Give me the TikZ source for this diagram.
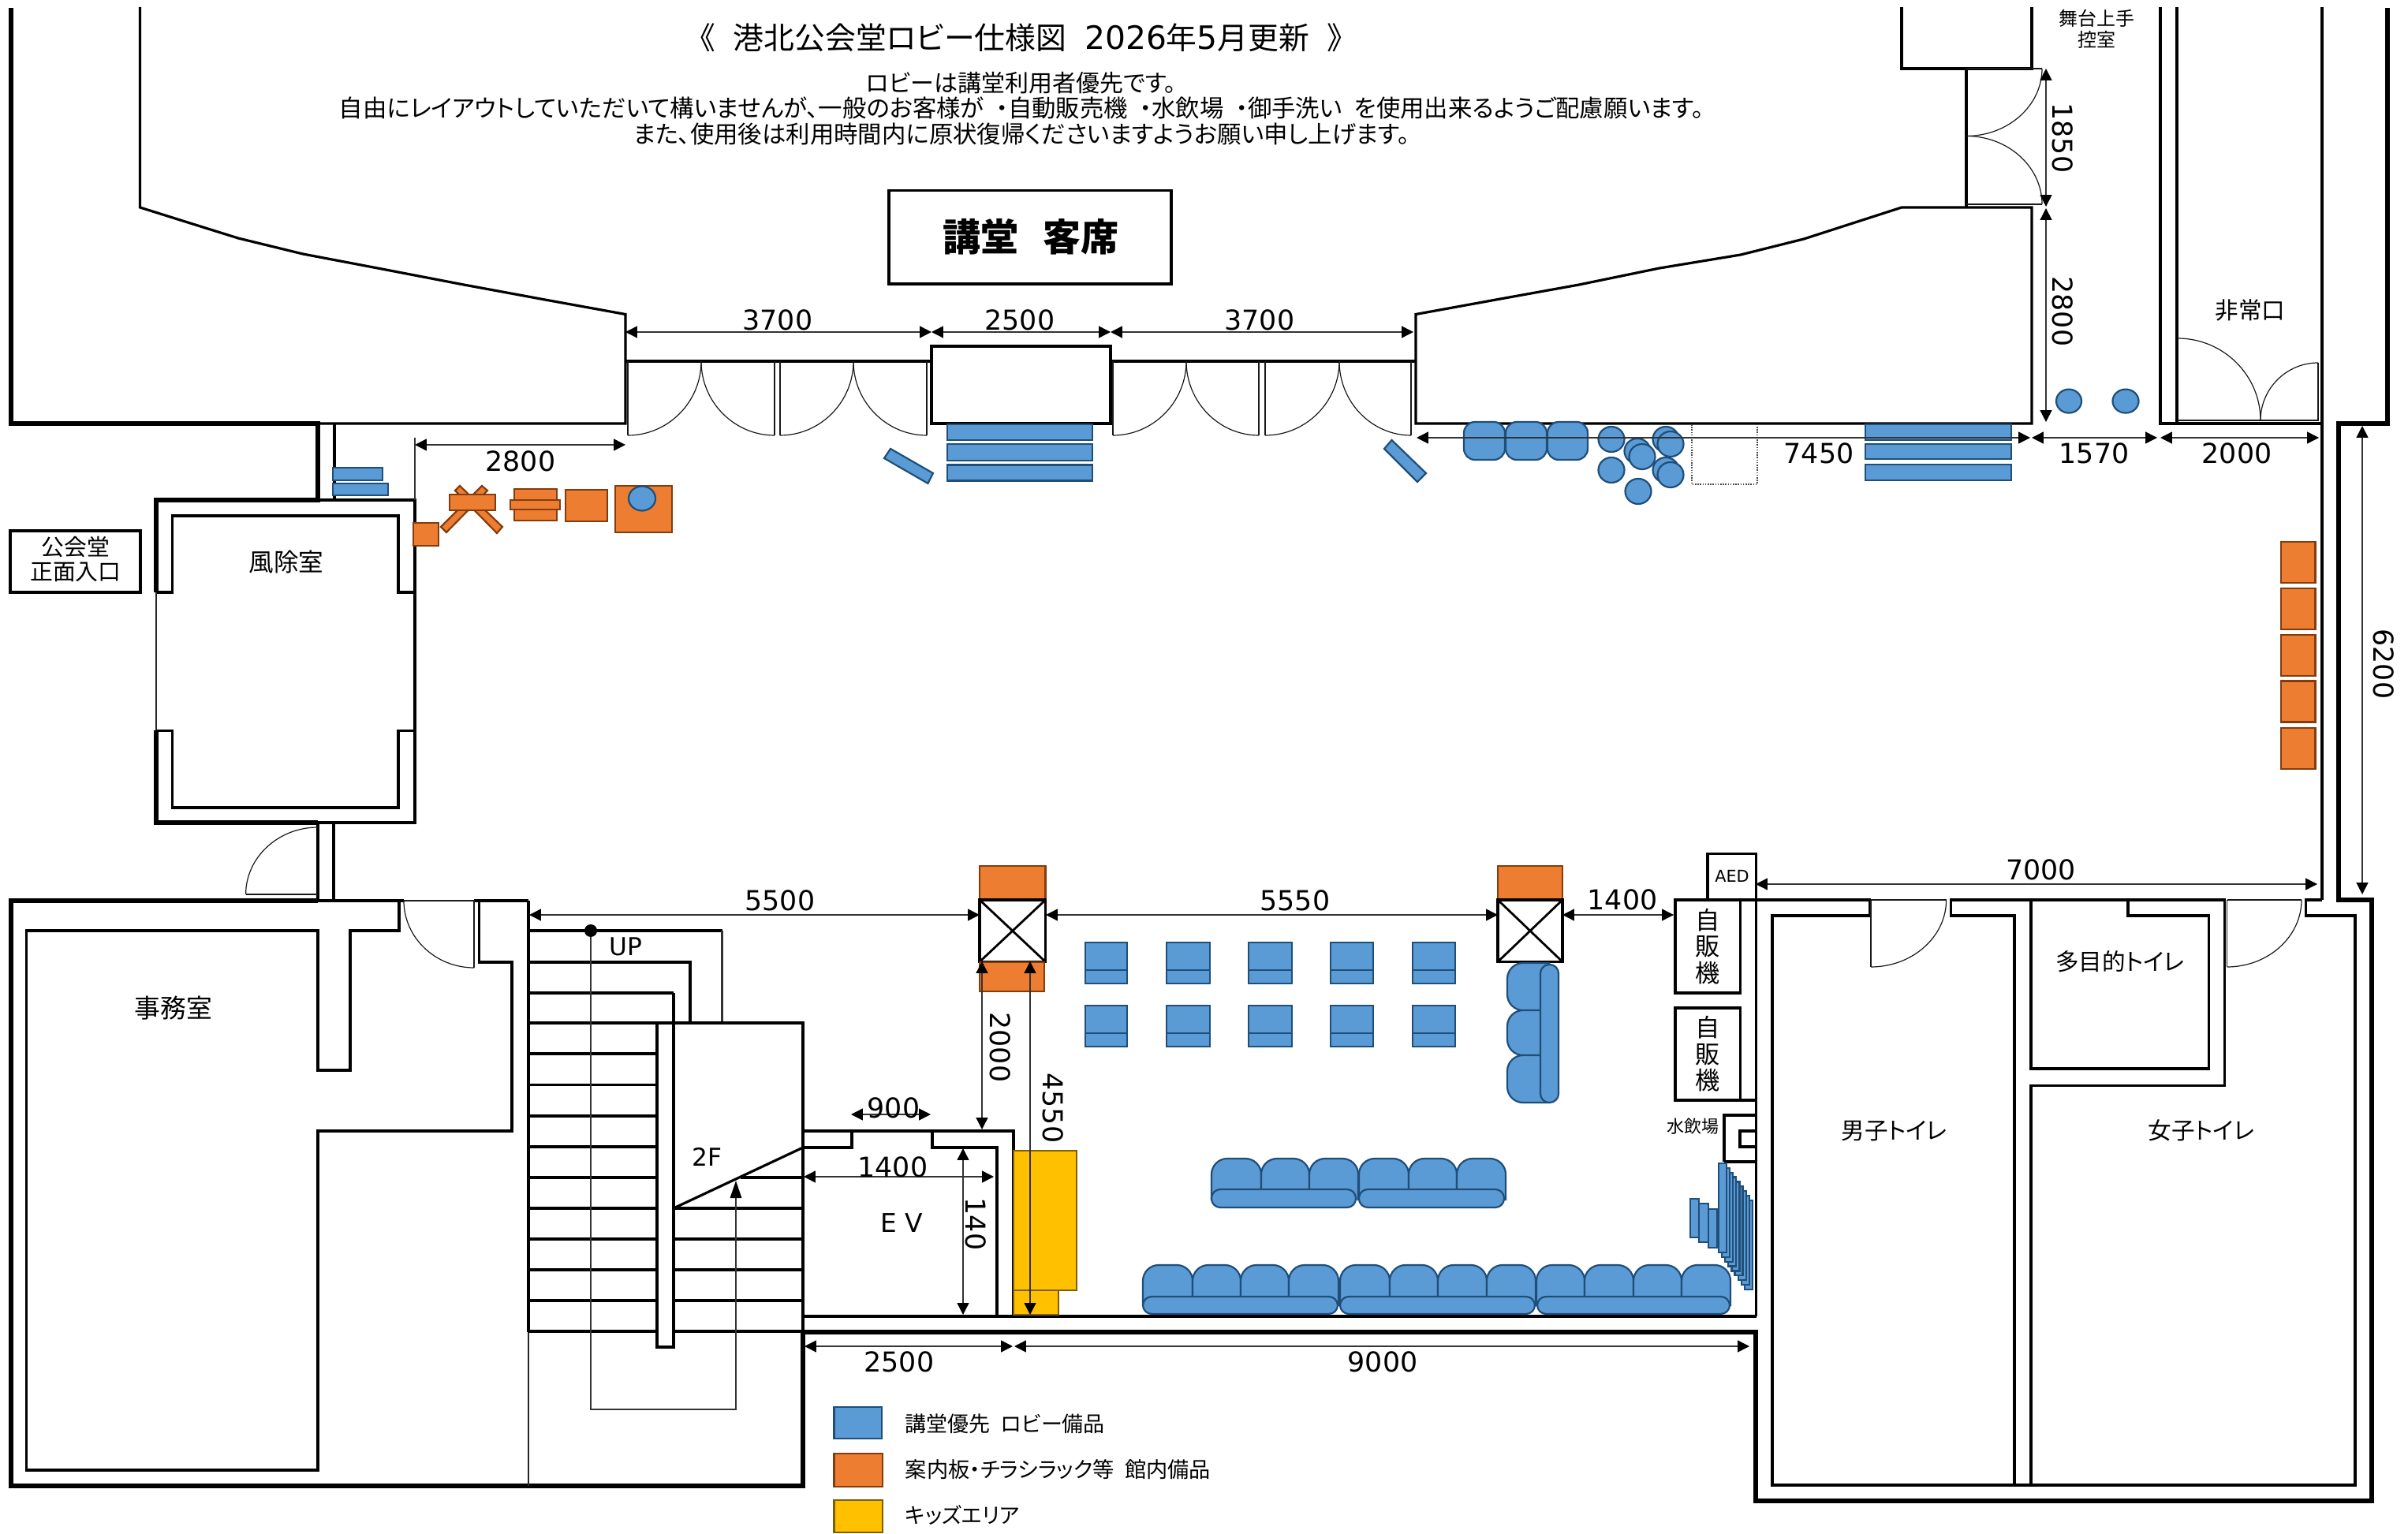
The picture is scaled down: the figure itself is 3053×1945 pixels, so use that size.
\documentclass[tikz,border=0pt]{standalone}
\usepackage{fontspec}
\setmainfont{Noto Sans CJK JP}[RawFeature=+palt]
\newfontfamily\digitfont{DejaVu Sans}
\usetikzlibrary{arrows.meta}
\definecolor{bluef}{HTML}{5B9BD5}
\definecolor{blued}{HTML}{1F4E79}
\definecolor{orf}{HTML}{ED7D31}
\definecolor{ord}{HTML}{843C0C}
\definecolor{yelf}{HTML}{FFC000}
\definecolor{yeld}{HTML}{7F6000}
\newcommand\fz[1]{\fontsize{#1}{#1}\selectfont}
\newcommand\hvarc[4]{\draw[doorline] (#1,#2) .. controls ({#1+0.55*(#3-#1)},#2) and (#3,{#4-0.55*(#4-#2)}) .. (#3,#4);}
\newcommand\vharc[4]{\draw[doorline] (#1,#2) .. controls (#1,{#2+0.55*(#4-#2)}) and ({#3-0.55*(#3-#1)},#4) .. (#3,#4);}
\tikzset{
 heavy/.style={line width=1.5pt,line cap=butt,line join=miter},
 wall/.style={line width=0.8pt,line join=miter},
 doorline/.style={line width=0.3pt,black!90},
 hair/.style={line width=0.35pt,black!80},
 dimline/.style={line width=0.35pt,black!80,>={Triangle[length=3.7pt,width=3.7pt,color=black]},<->},
 bluebox/.style={draw=blued,fill=bluef,line width=0.55pt},
 orbox/.style={draw=ord,fill=orf,line width=0.55pt},
 yelbox/.style={draw=yeld,fill=yelf,line width=0.55pt},
 num/.style={font=\digitfont\fz{8.7},inner sep=0pt},
 lab/.style={font=\fz{7.4},inner sep=0pt,align=center},
}
\begin{document}
\begin{tikzpicture}[x=0.25pt,y=-0.25pt]
\useasboundingbox (0,0) rectangle (3053,1945);
\fill[white] (0,0) rectangle (3053,1945);
% ---------- heavy walls
\draw[heavy] (14,10)--(14,537)--(403,537)--(403,634)--(198,634)--(198,751);
\draw[heavy] (198,926)--(198,1043)--(403,1043);
\draw[heavy] (403,1142)--(14,1142)--(14,1884)--(1018,1884)--(1018,1689)--(2226,1689)--(2226,1903)--(3007,1903)--(3007,1141)--(2965,1141)--(2965,537)--(3027,537)--(3027,10);
% ---------- auditorium outline
\draw[wall] (403,537)--(793,537)--(793,398.5)--(691,380)--(588,361)--(484,341)--(384,322)--(302,302)--(238,282)--(177.5,263)--(177.5,9);
\draw[wall] (793,458)--(1181,458);
\draw[wall] (1408,458)--(1795,458);
\draw[wall] (1181,439) rectangle (1408,537);
\draw[wall] (1795,458)--(1795,398.5)--(1900,379.4)--(2002,361)--(2104,340)--(2207,323)--(2287,303)--(2411,263)--(2576,263)--(2576,537)--(1795,537)--cycle;
\draw[wall] (2411,9)--(2411,87)--(2576,87)--(2576,9);
\draw[wall] (2493,87)--(2493,263);
\draw[wall] (2739,9)--(2739,537)--(2944,537);
\draw[wall] (2760,9)--(2760,537);
\draw[wall] (2944,9)--(2944,1141);
% ---------- wind room
\draw[wall] (403,634)--(526,634)--(526,1043)--(403,1043);
\draw[wall] (424,537)--(424,634);
\draw[wall] (198,751)--(218.7,751)--(218.7,654)--(505,654)--(505,751)--(526,751);
\draw[wall] (198,926.5)--(218.7,926.5)--(218.7,1024)--(505,1024)--(505,926.5)--(526,926.5);
\draw[line width=0.6pt,black!85] (198,751)--(198,926);
\draw[wall] (13,673) rectangle (178,751);
\draw[wall] (403,1043)--(403,1142);
\draw[wall] (423,1043)--(423,1142);
% ---------- office
\draw[wall] (403,1142)--(670,1142);
\draw[wall] (506,1142)--(506,1180)--(444,1180)--(444,1357)--(403,1357)--(403,1180)--(33.7,1180)--(33.7,1864)--(403,1864)--(403,1434)--(649,1434)--(649,1220)--(607.5,1220)--(607.5,1142);
\draw[wall] (670,1142)--(670,1689);
\draw[line width=0.55pt,black!85] (670,1689)--(670,1884);
% ---------- stairs
\draw[wall] (670,1220)--(875,1220)--(875,1297);
\draw[wall] (670,1259)--(854,1259);
\draw[wall] (670,1180)--(915.5,1180);
\draw[line width=0.55pt,black!80] (915.5,1180)--(915.5,1297);
\draw[wall] (670,1297)--(1018,1297)--(1018,1689);
\foreach \yy in {1336,1375.5,1415,1454,1493,1532,1571,1610,1649,1688}{\draw[wall] (670,\yy)--(833,\yy);}
\foreach \yy in {1532,1571,1610,1649,1688}{\draw[wall] (854,\yy)--(1018,\yy);}
\draw[wall] (938.6,1493)--(1018,1493);
\draw[wall] (854,1532)--(1018,1455);
\draw[wall] (833,1297)--(833,1708)--(854,1708)--(854,1259);
\draw[hair,line width=0.5pt,-{Triangle[length=5.5pt,width=3.6pt,color=black]}] (749,1180)--(749,1787)--(933,1787)--(933,1497);
\fill (749,1180) circle (8);
% ---------- EV and floor
\draw[wall] (1018,1455)--(1080,1455)--(1080,1434);
\draw[wall] (1018,1434)--(1285,1434)--(1285,1669);
\draw[wall] (1182,1434)--(1182,1455)--(1264,1455)--(1264,1669);
\draw[wall] (1018,1669)--(2226.5,1669);
% ---------- right side block
\draw[wall] (2226.5,1141)--(2226.5,1669);
\draw[wall] (2165,1141)--(2165,1082.5)--(2226.5,1082.5)--(2226.5,1141);
\draw[wall] (2124,1141) rectangle (2206.6,1259);
\draw[wall] (2124,1278)--(2206.6,1278)--(2206.6,1395)--(2124,1395)--cycle;
\draw[wall] (2124,1395)--(2226.5,1395);
\draw[wall] (2206.6,1141)--(2226.5,1141);
\draw[wall] (2186,1473)--(2186,1414)--(2226.5,1414);
\draw[wall] (2186,1473)--(2226.5,1473);
\draw[wall] (2226.5,1434)--(2206,1434)--(2206,1454)--(2226.5,1454);
% ---------- toilets
\draw[wall] (2226.5,1141)--(2370.6,1141)--(2370.6,1161)--(2247,1161)--(2247,1883)--(2986,1883)--(2986,1161)--(2923.5,1161)--(2923.5,1141)--(2944,1141);
\draw[wall] (2554,1883)--(2554,1161)--(2473.5,1161)--(2473.5,1141)--(2820.6,1141)--(2820.6,1376.5)--(2575,1376.5)--(2575,1883);
\draw[wall] (2575,1141)--(2575,1355)--(2800.7,1355)--(2800.7,1161)--(2698,1161)--(2698,1141);
% ---------- doors
\foreach \a/\b/\c in {796/889/982,989/1082/1175,1411/1504/1596,1604/1698/1789}{
 \draw[doorline] (\a,458)--(\a,552);
 \draw[doorline] (\c,458)--(\c,552);
 \hvarc{\a}{552}{\b}{458}
 \vharc{\b}{458}{\c}{552}
}
\draw[doorline] (2589,87)--(2493,87);
\draw[doorline] (2589,259)--(2493,259);
\vharc{2589}{87}{2493}{172.5}
\hvarc{2493}{172.5}{2589}{259}
\hvarc{2761}{429}{2866}{533}
\vharc{2866}{533}{2939}{460}
\draw[doorline] (2939,460)--(2939,533)--(2761,533);
\draw[doorline] (403,1134)--(311.6,1134);
\vharc{311.6}{1134}{403}{1049}
\draw[fill=white,draw=none] (512,1139) rectangle (601,1145);
\draw[doorline] (512,1142)--(601,1142)--(601,1227);
\vharc{512}{1142}{601}{1227}
\draw[fill=white,draw=none] (2372,1139) rectangle (2467.6,1143);
\draw[fill=white,draw=none] (2823.5,1139) rectangle (2918,1143);
\draw[doorline] (2372,1141)--(2467.6,1141);
\draw[doorline] (2372,1141)--(2372,1226);
\hvarc{2372}{1226}{2467.6}{1141}
\draw[doorline] (2823.5,1141)--(2918,1141);
\draw[doorline] (2823.5,1141)--(2823.5,1226);
\hvarc{2823.5}{1226}{2918}{1141}
% ---------- pillars
\foreach \xa/\xb in {1242/1325.5,1899/1981}{
 \draw[orbox] (\xa,1098) rectangle (\xb,1140);
 \draw[line width=0.85pt,fill=white] (\xa,1141) rectangle (\xb,1219.5);
 \draw[line width=0.7pt] (\xa,1141)--(\xb,1219.5) (\xa,1219.5)--(\xb,1141);
}
\draw[orbox] (1242,1220) rectangle (1324,1257);
% ---------- yellow
\draw[yelbox] (1285,1459) rectangle (1365,1636);
\draw[yelbox] (1285,1636) rectangle (1342,1667);
% ---------- blue benches
\foreach \ya/\yb in {538/558,563/584,589.5/609.6}{\draw[bluebox] (1201,\ya) rectangle (1385,\yb);}
\foreach \ya/\yb in {538/558,563/582,589/609}{\draw[bluebox] (2365,\ya) rectangle (2550,\yb);}
\draw[bluebox] (422,593) rectangle (485,609);
\draw[bluebox] (422,613) rectangle (492,628);
\draw[bluebox] (1129,569)--(1183,600)--(1176.5,613)--(1121,581)--cycle;
\draw[bluebox] (1764.5,558)--(1808,600)--(1797,611)--(1755,569)--cycle;
% cushions
\foreach \xa/\xb in {1856/1908,1909/1961,1962/2013}{\draw[bluebox,rounded corners=3.5pt] (\xa,535) rectangle (\xb,583);}
\foreach \cx/\cy in {2043/557,2043/596,2076/572,2082/579,2112/557,2118/563,2112/596,2118/602,2077/623}{\draw[bluebox] (\cx,\cy) ellipse [x radius=16.5,y radius=16];}
\draw[bluebox] (2623,508.6) ellipse [x radius=16,y radius=15];
\draw[bluebox] (2695,508.6) ellipse [x radius=16.5,y radius=15];
\draw[line width=0.6pt,dash pattern=on 0.4pt off 0.4pt,black!70] (2145,538)--(2145,614)--(2228,614)--(2228,538);
% orange lobby items
\draw[orbox] (524,663) rectangle (556,692);
\draw[orbox] (559,668)--(566,675)--(618,622)--(611,616)--cycle;
\draw[orbox] (577,622)--(583,616)--(637,668)--(630,676)--cycle;
\draw[orbox] (570,627) rectangle (628,647);
\draw[orbox] (652,620) rectangle (706,660);
\draw[orbox] (647,634) rectangle (710,646);
\draw[orbox] (717,621) rectangle (770,661);
\draw[orbox] (780,616) rectangle (852,675);
\draw[bluebox] (814,632) ellipse [x radius=17,y radius=15.5];
\foreach \ya/\yb in {687/739,746/798,805/857,863.6/915.5,923/975}{\draw[orbox] (2892,\ya) rectangle (2935.5,\yb);}
% chairs
\foreach \xa/\xb in {1376/1429,1479/1534,1583/1638,1687/1741,1790.6/1845}{
 \draw[bluebox] (\xa,1195) rectangle (\xb,1247);
 \draw[blued,line width=0.55pt] (\xa,1230)--(\xb,1230);
 \draw[bluebox] (\xa,1275) rectangle (\xb,1327);
 \draw[blued,line width=0.55pt] (\xa,1310)--(\xb,1310);
}
% sofas: middle row
\foreach \xa/\xb in {1536/1599,1599/1660,1660/1722,1723/1786,1786/1847,1847/1909}{
 \draw[bluebox,rounded corners=5pt] (\xa,1522)--(\xa,1469)--(\xb,1469)--(\xb,1522);
 \fill[bluef] (\xa+2,1490) rectangle (\xb-2,1522);
 \draw[blued,line width=0.55pt] (\xa,1490)--(\xa,1522) (\xb,1490)--(\xb,1522);
}
\draw[bluebox,rounded corners=2.8pt] (1536,1508) rectangle (1719,1531);
\draw[bluebox,rounded corners=2.8pt] (1723,1508) rectangle (1907,1531);
% sofas: bottom row
\foreach \xa/\xb in {1449/1512,1512/1573,1573/1634,1634/1697,1699/1762,1762/1823,1823/1885,1885/1947,1948/2009,2009/2071,2071/2132,2132/2194}{
 \draw[bluebox,rounded corners=5pt] (\xa,1656)--(\xa,1604)--(\xb,1604)--(\xb,1656);
 \fill[bluef] (\xa+2,1625) rectangle (\xb-2,1656);
 \draw[blued,line width=0.55pt] (\xa,1625)--(\xa,1656) (\xb,1625)--(\xb,1656);
}
\draw[bluebox,rounded corners=2.8pt] (1449,1644) rectangle (1696,1666);
\draw[bluebox,rounded corners=2.8pt] (1699,1644) rectangle (1946,1666);
\draw[bluebox,rounded corners=2.8pt] (1949,1644) rectangle (2193,1666);
% sofa: vertical
\foreach \ya/\yb in {1221/1281,1281/1338,1338/1398}{
 \draw[bluebox,rounded corners=5pt] (1965,\ya)--(1911,\ya)--(1911,\yb)--(1965,\yb);
}
\draw[bluebox,rounded corners=2.8pt] (1953,1223) rectangle (1976,1398);
% stacked chairs by the wall
\foreach \i in {8,7,...,0}{\draw[bluebox] ({2179+4.1*\i},{1475+5.85*\i}) rectangle ({2189+4.1*\i},{1588+5.85*\i});}
\draw[bluebox] (2143,1520) rectangle (2154,1569);
\draw[bluebox] (2154,1526) rectangle (2166,1575);
\draw[bluebox] (2166,1533) rectangle (2177,1582);
% ---------- dimensions
\draw[dimline] (793,421)--(1181,421);
\draw[dimline] (1181,421)--(1408,421);
\draw[dimline] (1408,421)--(1792,421);
\draw[dimline] (526,564)--(793,564);
\draw[hair] (526,555)--(526,634);
\draw[dimline] (1796,555)--(2574,555);
\draw[dimline] (2576,555)--(2735,555);
\draw[dimline] (2739,555)--(2940,555);
\draw[dimline] (2594,87)--(2594,262);
\draw[dimline] (2594,264)--(2594,535);
\draw[dimline] (2995,540)--(2995,1134);
\draw[dimline] (671,1160)--(1242,1160);
\draw[dimline] (1326,1160)--(1899,1160);
\draw[dimline] (1981,1160)--(2122,1160);
\draw[dimline] (2226,1121)--(2938,1121);
\draw[dimline] (1245,1219)--(1245,1432);
\draw[dimline] (1306,1219)--(1306,1667);
\draw[dimline] (1079,1413)--(1180,1413);
\draw[dimline] (1019,1492)--(1260,1492);
\draw[dimline] (1221,1456)--(1221,1667);
\draw[dimline] (1020,1707)--(1284,1707);
\draw[dimline] (1286,1707)--(2218,1707);
\node[num] (d1) at (986,406) {3700};
\node[num] (d2) at (1293,406) {2500};
\node[num] (d3) at (1597,406) {3700};
\node[num] (d4) at (660,585) {2800};
\node[num] (d5) at (2306,575) {7450};
\node[num] (d6) at (2655,575) {1570};
\node[num] (d7) at (2836,575) {2000};
\node[num,rotate=-90] (d8) at (2615,175) {1850};
\node[num,rotate=-90] (d9) at (2615,395) {2800};
\node[num,rotate=-90] (d10) at (3022,842) {6200};
\node[num] (d11) at (989,1142) {5500};
\node[num] (d12) at (1642,1142) {5550};
\node[num] (d13) at (2057,1141) {1400};
\node[num] (d14) at (2587.5,1102.5) {7000};
\node[num,rotate=-90] (d15) at (1268,1328) {2000};
\node[num,rotate=-90] (d16) at (1335,1405) {4550};
\node[num] (d17) at (1133,1405) {900};
\node[num] (d18) at (1132,1480) {1400};
\node[num,rotate=-90] (d19) at (1237,1552) {140};
\node[num] (d20) at (1140,1727) {2500};
\node[num] (d21) at (1753,1727) {9000};
% ---------- titles
\node[inner sep=0pt,font=\fz{9.7}] (title) at (1295,48) {《\hspace{0.6em}港北公会堂ロビー仕様図\hspace{0.6em}{\digitfont\fz{10.2}2026}年{\digitfont\fz{10.2}5}月更新\hspace{0.6em}》};
\node[inner sep=0pt,font=\fz{7.5}] (t1) at (1295,105) {ロビーは講堂利用者優先です。};
\node[inner sep=0pt,font=\fz{7.6}] (t2) at (1295,137) {自由にレイアウトしていただいて構いませんが、一般のお客様が\hspace{0.5em}・自動販売機\hspace{0.5em}・水飲場\hspace{0.5em}・御手洗い\hspace{0.5em}を使用出来るようご配慮願います。};
\node[inner sep=0pt,font=\fz{7.6}] (t3) at (1295,170) {また、使用後は利用時間内に原状復帰くださいますようお願い申し上げます。};
\draw[wall] (1127,241.6) rectangle (1485,360);
\node[inner sep=0pt,font=\fz{12}\bfseries] (hall) at (1307,300) {講堂\hspace{0.65em}客席};
% ---------- room labels
\node[lab,font=\fz{7.2},align=center] (entry) at (96,709) {公会堂\\[0.1em]正面入口};
\node[lab,font=\fz{7.9}] (wind) at (363,713) {風除室};
\node[lab,font=\fz{8.2}] (office) at (220,1278) {事務室};
\node[lab,font=\fz{6},align=center] (stage) at (2658,37) {舞台上手\\[0.15em]控室};
\node[lab] (exit) at (2853,393) {非常口};
\node[lab] (up) at (793,1200) {{\digitfont\fz{7.8}UP}};
\node[lab] (fl2) at (896.5,1467) {{\digitfont\fz{7.8}2F}};
\node[lab] (ev) at (1143,1551) {{\digitfont\fz{8.2}E\hspace{0.3em}V}};
\node[lab,font=\digitfont\fz{5.2}] (aed) at (2196,1111) {AED};
\node[lab,font=\fz{7.8},align=center] (vm1) at (2165,1200) {自\\[0.07em]販\\[0.07em]機};
\node[lab,font=\fz{7.8},align=center] (vm2) at (2165,1336.5) {自\\[0.07em]販\\[0.07em]機};
\node[lab,font=\fz{5.5}] (water) at (2146,1428) {水飲場};
\node[lab] (men) at (2401.5,1433.6) {男子トイレ};
\node[lab] (women) at (2791,1433.6) {女子トイレ};
\node[lab] (multi) at (2688,1219) {多目的トイレ};
% ---------- legend
\draw[bluebox] (1057.5,1784) rectangle (1118,1824);
\draw[orbox] (1057.5,1843) rectangle (1119,1885);
\draw[yelbox] (1057.5,1902) rectangle (1119,1943);
\node[anchor=west,inner sep=0pt,font=\fz{6.75}] (l1) at (1147,1805) {講堂優先\hspace{0.5em}ロビー備品};
\node[anchor=west,inner sep=0pt,font=\fz{6.8}] (l2) at (1147,1863) {案内板・チラシラック等\hspace{0.5em}館内備品};
\node[anchor=west,inner sep=0pt,font=\fz{6.75}] (l3) at (1147,1921) {キッズエリア};
\end{tikzpicture}
\end{document}
